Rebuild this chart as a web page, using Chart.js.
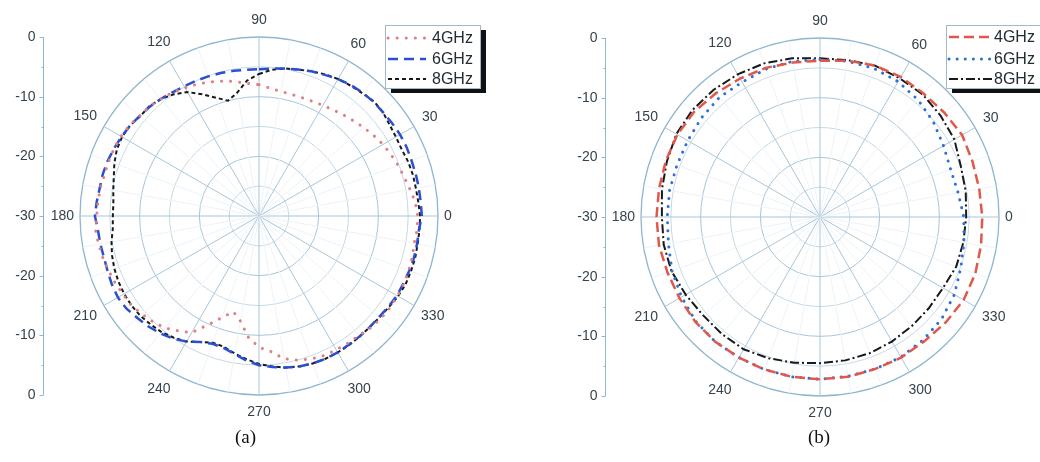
<!DOCTYPE html>
<html>
<head>
<meta charset="utf-8">
<script src="https://cdn.jsdelivr.net/npm/chart.js@4.4.0/dist/chart.umd.min.js"></script>
<style>
  body { margin: 0; background: #fff; }
  .wrap { position: relative; width: 1040px; height: 462px; overflow: hidden; }
  canvas { position: absolute; top: 0; }
  #chartA { left: 0; }
  #chartB { left: 520px; }
  .cap { position: absolute; top: 426px; line-height: 22px; font: 19px "Liberation Serif", "Times New Roman", serif; color: #111; }
</style>
</head>
<body>
<div class="wrap">
  <canvas id="chartA" width="520" height="462"></canvas>
  <canvas id="chartB" width="520" height="462"></canvas>
  <div class="cap" style="left:235px">(a)</div>
  <div class="cap" style="left:808px">(b)</div>
</div>
<script>
// polar angles in degrees, counter-clockwise from the right
const anglesA = [0, 5, 10, 15, 20, 25, 30, 35, 40, 45, 50, 55, 60, 65, 70, 75, 80, 85,
  90, 95, 100, 105, 110, 115, 120, 125, 130, 135, 140, 145, 150, 155, 160, 165, 170, 175,
  180, 185, 190, 195, 200, 205, 210, 215, 220, 225, 230, 235, 240, 245, 250, 255, 260, 265,
  270, 275, 280, 285, 290, 295, 300, 305, 310, 315, 320, 325, 330, 335, 340, 345, 350, 355];
const anglesB = [0, 10, 20, 30, 40, 50, 60, 70, 80, 90, 100, 110, 120, 130, 140, 150, 160, 170,
  180, 190, 200, 210, 220, 230, 240, 250, 260, 270, 280, 290, 300, 310, 320, 330, 340, 350];

// normalized gain (dB), panel (a)
const gainA4 = [-3.4, -3.7, -4.3, -4.8, -5.2, -5.6, -6.0, -6.5, -7.0, -7.5, -7.9, -8.3, -8.6, -8.8, -8.9, -8.9, -8.8, -8.5,
  -8.0, -7.7, -7.1, -6.6, -6.1, -5.6, -5.2, -4.7, -4.4, -4.0, -3.9, -3.5, -3.3, -3.2, -3.2, -3.2, -3.0, -2.9,
  -2.8, -2.5, -2.7, -2.9, -3.2, -3.4, -3.7, -3.9, -4.4, -4.9, -5.5, -6.5, -7.4, -9.9, -11.9, -13.4, -12.1, -9.6,
  -8.0, -7.2, -5.7, -5.0, -4.5, -4.2, -4.1, -4.0, -3.9, -3.5, -3.3, -3.2, -3.2, -3.2, -3.3, -3.4, -3.6, -3.4];
const gainA6 = [-2.7, -2.8, -2.8, -2.8, -2.8, -2.7, -2.7, -2.8, -2.9, -2.9, -3.0, -3.2, -3.5, -3.9, -4.2, -4.6, -4.9, -5.2,
  -5.4, -5.4, -5.3, -5.2, -5.1, -5.0, -4.9, -4.7, -4.4, -4.1, -3.9, -3.6, -3.4, -3.2, -3.0, -2.9, -2.9, -2.7,
  -2.5, -2.9, -3.0, -3.1, -3.0, -2.8, -2.7, -2.9, -3.4, -3.8, -4.3, -4.9, -5.7, -6.7, -7.2, -7.1, -6.5, -5.7,
  -5.0, -4.6, -4.2, -3.9, -3.7, -3.6, -3.6, -3.7, -3.7, -3.7, -3.7, -3.5, -3.3, -3.3, -3.2, -3.1, -3.1, -3.1];
const gainA8 = [-3.0, -3.2, -3.3, -3.3, -3.4, -3.6, -3.5, -3.3, -2.9, -2.8, -3.1, -3.3, -3.5, -3.8, -4.2, -4.6, -4.9, -5.4,
  -6.2, -7.2, -9.0, -10.0, -8.9, -7.5, -6.0, -5.1, -4.4, -4.0, -4.0, -3.6, -3.5, -3.7, -4.2, -4.8, -5.2, -5.5,
  -5.5, -5.4, -4.9, -4.5, -4.2, -4.0, -3.9, -3.9, -4.0, -4.3, -4.6, -5.1, -5.7, -6.7, -7.4, -7.3, -6.6, -5.9,
  -5.2, -4.7, -4.2, -3.9, -3.7, -3.6, -3.6, -3.6, -3.7, -3.7, -3.6, -3.4, -3.1, -2.9, -2.9, -2.9, -3.0, -3.0];

// normalized gain (dB), panel (b)
const gainB4 = [-2.8, -2.9, -2.8, -2.5, -2.8, -3.0, -2.9, -3.0, -3.4, -3.8, -3.7, -3.4, -3.2, -2.9, -2.5, -2.4, -2.5, -2.6,
  -2.6, -2.6, -2.8, -2.8, -2.7, -2.7, -2.8, -2.8, -2.8, -2.8, -2.8, -2.9, -2.8, -2.8, -2.5, -2.2, -2.3, -2.6];
const gainB6 = [-5.9, -6.5, -6.7, -6.1, -5.2, -4.4, -3.8, -3.5, -3.5, -3.6, -3.5, -3.6, -3.9, -3.8, -4.1, -4.4, -4.5, -4.4,
  -4.4, -4.2, -3.6, -3.2, -2.8, -2.7, -2.8, -2.8, -2.8, -2.8, -2.9, -2.9, -2.9, -3.1, -3.4, -4.0, -4.9, -5.5];
const gainB8 = [-5.5, -5.2, -4.9, -4.0, -3.6, -3.2, -3.2, -3.0, -3.3, -3.4, -3.0, -2.6, -2.4, -2.2, -2.1, -2.2, -2.7, -3.1,
  -3.5, -3.4, -3.5, -4.0, -4.4, -4.4, -4.4, -4.8, -5.2, -5.5, -5.6, -5.7, -5.9, -6.1, -6.2, -6.2, -5.7, -5.6];

const seriesNames = ['4GHz', '6GHz', '8GHz'];
const angleTicks = [0, 30, 60, 90, 120, 150, 180, 210, 240, 270, 300, 330];
const dbTicks = [0, -10, -20, -30];
const dbMinor = [-5, -15, -25];

const gridBlue = '#a8c5d8';
const textColor = '#36434c';

// radar indices run clockwise from the top; reorder so 0 sits on the right and angles grow counter-clockwise
function radarOrder(angles, values) {
  const step = angles[1] - angles[0];
  const n = angles.length;
  const out = [];
  for (let i = 0; i < n; i++) {
    const a = ((90 - i * step) % 360 + 360) % 360;
    out.push((values || angles)[angles.indexOf(a)]);
  }
  return out;
}

const polarDecor = {
  id: 'polarDecor',
  afterDraw(chart, args, opts) {
    const ctx = chart.ctx;
    const r = chart.scales.r;
    const cy = r.yCenter;
    const R = r.getDistanceFromCenterForValue(0);
    const n = chart.data.labels.length;
    const step = 360 / n;
    ctx.save();

    // vertical dB axis on the left, mirrored about the centre
    const ax = opts.axisX + 0.5;
    ctx.strokeStyle = '#8db7d0';
    ctx.lineWidth = 1;
    ctx.beginPath();
    ctx.moveTo(ax, cy - R);
    ctx.lineTo(ax, cy + R);
    ctx.stroke();
    ctx.font = '14px "Liberation Sans", Arial, sans-serif';
    ctx.fillStyle = textColor;
    ctx.textAlign = 'right';
    ctx.textBaseline = 'middle';
    dbTicks.forEach(v => {
      const d = r.getDistanceFromCenterForValue(v);
      const ys = d > 0 ? [cy - d, cy + d] : [cy];
      ys.forEach(y => {
        ctx.beginPath();
        ctx.moveTo(ax - 4, Math.round(y) + 0.5);
        ctx.lineTo(ax, Math.round(y) + 0.5);
        ctx.stroke();
        ctx.fillText(String(v), ax - 8, y);
      });
    });
    dbMinor.forEach(v => {
      const d = r.getDistanceFromCenterForValue(v);
      [cy - d, cy + d].forEach(y => {
        ctx.beginPath();
        ctx.moveTo(ax - 2, Math.round(y) + 0.5);
        ctx.lineTo(ax, Math.round(y) + 0.5);
        ctx.stroke();
      });
    });

    // angle labels around the rim
    ctx.textAlign = 'center';
    angleTicks.forEach(a => {
      const idx = ((90 - a) / step % n + n) % n;
      const txt = String(a);
      const w = ctx.measureText(txt).width;
      const rad = a * Math.PI / 180;
      const gap = 6 + Math.abs(Math.cos(rad)) * w / 2 + Math.abs(Math.sin(rad)) * 11;
      const p = r.getPointPosition(idx, R + gap);
      ctx.fillText(txt, p.x, p.y);
    });

    // legend box with a solid drop shadow
    const lg = opts.legend;
    ctx.fillStyle = '#111';
    ctx.fillRect(lg.x + 6, lg.y + 5, lg.w, lg.h);
    ctx.fillStyle = '#fff';
    ctx.fillRect(lg.x, lg.y, lg.w, lg.h);
    ctx.strokeStyle = '#9fb9c9';
    ctx.strokeRect(lg.x + 0.5, lg.y + 0.5, lg.w, lg.h);
    ctx.font = '16px "Liberation Sans", Arial, sans-serif';
    ctx.textAlign = 'left';
    chart.data.datasets.forEach((ds, i) => {
      const y = lg.rows[i];
      ctx.save();
      ctx.strokeStyle = ds.borderColor;
      ctx.lineWidth = ds.borderWidth;
      ctx.lineCap = ds.borderCapStyle;
      ctx.setLineDash(ds.borderDash);
      ctx.beginPath();
      ctx.moveTo(lg.lineX[0], y);
      ctx.lineTo(lg.lineX[1], y);
      ctx.stroke();
      ctx.restore();
      ctx.fillStyle = '#222c33';
      ctx.fillText(ds.label, lg.textX, y + 1);
    });
    ctx.restore();
  }
};

function makeDataset(label, values, angles, color, dash, width, cap) {
  return {
    label: label,
    data: radarOrder(angles, values),
    borderColor: color,
    borderWidth: width,
    borderDash: dash,
    borderCapStyle: cap,
    backgroundColor: 'rgba(0,0,0,0)',
    fill: false,
    pointRadius: 0,
    tension: 0
  };
}

function makeChart(id, angles, datasets, padding, decor) {
  return new Chart(document.getElementById(id).getContext('2d'), {
    type: 'radar',
    data: { labels: radarOrder(angles).map(String), datasets: datasets },
    options: {
      responsive: false,
      animation: false,
      layout: { padding: padding },
      plugins: { legend: { display: false }, tooltip: { enabled: false }, polarDecor: decor },
      scales: {
        r: {
          min: -30,
          max: 0,
          startAngle: 0,
          ticks: { display: false, stepSize: 5 },
          pointLabels: { display: false },
          grid: {
            circular: true,
            color: c => c.tick.value === 0 ? '#8fb6cf' : (c.tick.value % 10 === 0 ? gridBlue : '#c6d9e5'),
            lineWidth: c => c.tick.value === 0 ? 1.3 : 1
          },
          angleLines: {
            color: c => Number(c.label) % 30 === 0 ? gridBlue : '#edf3f6',
            lineWidth: c => Number(c.label) % 10 === 0 ? 1 : 0
          }
        }
      }
    },
    plugins: [polarDecor]
  });
}

makeChart('chartA', anglesA, [
  makeDataset(seriesNames[0], gainA4, anglesA, '#e07e82', [0.1, 9], 3, 'round'),
  makeDataset(seriesNames[1], gainA6, anglesA, '#2a4fcf', [10, 6], 2.5, 'butt'),
  makeDataset(seriesNames[2], gainA8, anglesA, '#161a1c', [4, 3], 2, 'butt')
], { left: 80, right: 82, top: 37, bottom: 67 }, {
  axisX: 43,
  legend: { x: 385, y: 25, w: 95, h: 63, rows: [38, 59, 79], lineX: [388, 426], textX: 432 }
});

makeChart('chartB', anglesB, [
  makeDataset(seriesNames[0], gainB4, anglesB, '#e0584a', [10, 5], 2.5, 'butt'),
  makeDataset(seriesNames[1], gainB6, anglesB, '#2f6fd6', [0.1, 8], 3, 'round'),
  makeDataset(seriesNames[2], gainB8, anglesB, '#161a1c', [9, 3, 2, 3], 2, 'butt')
], { left: 121, right: 41, top: 38, bottom: 66 }, {
  axisX: 85,
  legend: { x: 426, y: 25, w: 110, h: 63, rows: [37, 59, 79], lineX: [429, 472], textX: 474 }
});
</script>
</body>
</html>
